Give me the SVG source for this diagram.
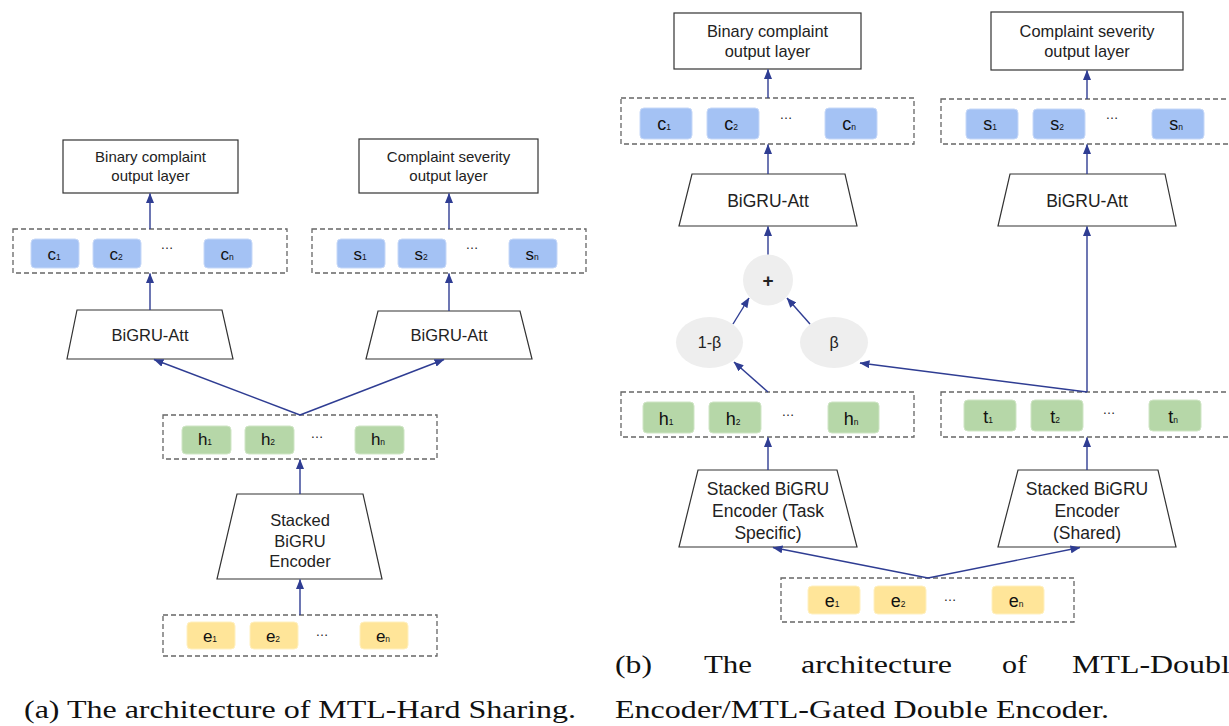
<svg xmlns="http://www.w3.org/2000/svg" width="1229" height="726" viewBox="0 0 1229 726">
<defs>
<marker id="arr" markerUnits="userSpaceOnUse" markerWidth="10" markerHeight="8" refX="9.5" refY="4" orient="auto">
<path d="M0,0 L10,4 L0,8 z" fill="#2f3d93"/>
</marker>
<style>
.box{fill:#fff;stroke:#333;stroke-width:1.2}
.row{fill:none;stroke:#666;stroke-width:1.3;stroke-dasharray:5 3}
.cb{fill:#a4c2f4;stroke:#c6d8f8;stroke-width:1}
.gb{fill:#b6d7a8;stroke:#cfe5c5;stroke-width:1}
.yb{fill:#ffe599;stroke:#fff0c0;stroke-width:1}
.el{fill:#eeeeee}
.t{font-family:"Liberation Sans",Arial,sans-serif;fill:#222;text-anchor:middle}
.l{font-family:"Liberation Sans",Arial,sans-serif;fill:#111;text-anchor:middle}
.s{font-size:8.5px}
.dots{font-family:"Liberation Sans",Arial,sans-serif;fill:#222;text-anchor:middle;font-size:13px}
.cap{font-family:"Liberation Serif","Times New Roman",serif;fill:#111;font-size:25px}
.con{stroke:#2f3d93;stroke-width:1.4;fill:none}
</style>
</defs>
<rect width="1229" height="726" fill="#fff"/>

<!-- ===== Diagram (a) ===== -->
<g id="a-binary-out">
<rect class="box" x="63" y="140" width="175" height="53"/>
<text class="t" x="150.5" y="162" font-size="15">Binary complaint</text>
<text class="t" x="150.5" y="181" font-size="15">output layer</text>
</g>
<g id="a-severity-out">
<rect class="box" x="359" y="139" width="179" height="54"/>
<text class="t" x="448.5" y="162" font-size="15">Complaint severity</text>
<text class="t" x="448.5" y="181" font-size="15">output layer</text>
</g>
<g id="a-c-row">
<rect class="row" x="13" y="229" width="274" height="44"/>
<rect class="cb" x="31" y="239" width="48" height="29" rx="4"/>
<rect class="cb" x="93" y="239" width="48" height="29" rx="4"/>
<rect class="cb" x="204" y="239" width="48" height="29" rx="4"/>
<text class="l" x="54" y="260" font-size="17">c<tspan class="s">1</tspan></text>
<text class="l" x="116" y="260" font-size="17">c<tspan class="s">2</tspan></text>
<text class="l" x="227" y="260" font-size="17">c<tspan class="s">n</tspan></text>
<text class="dots" x="167" y="249">…</text>
</g>
<g id="a-s-row">
<rect class="row" x="312" y="229" width="274" height="44"/>
<rect class="cb" x="337" y="239" width="48" height="29" rx="4"/>
<rect class="cb" x="398" y="239" width="48" height="29" rx="4"/>
<rect class="cb" x="509" y="239" width="48" height="29" rx="4"/>
<text class="l" x="360" y="260" font-size="17">s<tspan class="s">1</tspan></text>
<text class="l" x="421" y="260" font-size="17">s<tspan class="s">2</tspan></text>
<text class="l" x="532" y="260" font-size="17">s<tspan class="s">n</tspan></text>
<text class="dots" x="472" y="249">…</text>
</g>
<g id="a-bigru-att-1">
<polygon class="box" points="77,310 222,310 233,359 67,359"/>
<text class="t" x="150" y="341" font-size="16.5">BiGRU-Att</text>
</g>
<g id="a-bigru-att-2">
<polygon class="box" points="378,311 520,311 532,359 366,359"/>
<text class="t" x="449" y="341" font-size="16.5">BiGRU-Att</text>
</g>
<g id="a-h-row">
<rect class="row" x="163" y="415" width="274" height="44"/>
<rect class="gb" x="182" y="426" width="49" height="28" rx="4"/>
<rect class="gb" x="245" y="426" width="49" height="28" rx="4"/>
<rect class="gb" x="355" y="426" width="49" height="28" rx="4"/>
<text class="l" x="205" y="445" font-size="17">h<tspan class="s">1</tspan></text>
<text class="l" x="268" y="445" font-size="17">h<tspan class="s">2</tspan></text>
<text class="l" x="378" y="445" font-size="17">h<tspan class="s">n</tspan></text>
<text class="dots" x="317" y="438">…</text>
</g>
<g id="a-encoder">
<polygon class="box" points="237,494 363,494 382,579 217,579"/>
<text class="t" x="300" y="526" font-size="16.5">Stacked</text>
<text class="t" x="300" y="547" font-size="16.5">BiGRU</text>
<text class="t" x="300" y="567" font-size="16.5">Encoder</text>
</g>
<g id="a-e-row">
<rect class="row" x="163" y="615" width="274" height="41"/>
<rect class="yb" x="187" y="622" width="48" height="27" rx="4"/>
<rect class="yb" x="250" y="622" width="48" height="27" rx="4"/>
<rect class="yb" x="360" y="622" width="48" height="27" rx="4"/>
<text class="l" x="210" y="642" font-size="17">e<tspan class="s">1</tspan></text>
<text class="l" x="273" y="642" font-size="17">e<tspan class="s">2</tspan></text>
<text class="l" x="383" y="642" font-size="17">e<tspan class="s">n</tspan></text>
<text class="dots" x="322" y="636">…</text>
</g>
<g id="a-connectors">
<line class="con" x1="150" y1="229" x2="150" y2="193.5" marker-end="url(#arr)"/>
<line class="con" x1="150" y1="310" x2="150" y2="273.5" marker-end="url(#arr)"/>
<line class="con" x1="449" y1="229" x2="449" y2="193.5" marker-end="url(#arr)"/>
<line class="con" x1="449" y1="311" x2="449" y2="273.5" marker-end="url(#arr)"/>
<line class="con" x1="300" y1="415" x2="154" y2="359.5" marker-end="url(#arr)"/>
<line class="con" x1="300" y1="415" x2="444" y2="359.5" marker-end="url(#arr)"/>
<line class="con" x1="300" y1="494" x2="300" y2="459.5" marker-end="url(#arr)"/>
<line class="con" x1="300" y1="615" x2="300" y2="579.5" marker-end="url(#arr)"/>
</g>

<!-- ===== Diagram (b) ===== -->
<g id="b-binary-out">
<rect class="box" x="674" y="13" width="187" height="56"/>
<text class="t" x="767.5" y="37" font-size="16.4">Binary complaint</text>
<text class="t" x="767.5" y="57" font-size="16.4">output layer</text>
</g>
<g id="b-severity-out">
<rect class="box" x="991" y="12" width="192" height="58"/>
<text class="t" x="1087" y="37" font-size="16.4">Complaint severity</text>
<text class="t" x="1087" y="57" font-size="16.4">output layer</text>
</g>
<g id="b-c-row">
<rect class="row" x="621" y="98" width="293" height="46"/>
<rect class="cb" x="640" y="108" width="52" height="31" rx="4"/>
<rect class="cb" x="707" y="108" width="52" height="31" rx="4"/>
<rect class="cb" x="825" y="108" width="52" height="31" rx="4"/>
<text class="l" x="664" y="130" font-size="18">c<tspan class="s">1</tspan></text>
<text class="l" x="731" y="130" font-size="18">c<tspan class="s">2</tspan></text>
<text class="l" x="849" y="130" font-size="18">c<tspan class="s">n</tspan></text>
<text class="dots" x="786" y="119">…</text>
</g>
<g id="b-s-row">
<rect class="row" x="941" y="99" width="293" height="45"/>
<rect class="cb" x="966" y="109" width="52" height="30" rx="4"/>
<rect class="cb" x="1033" y="109" width="52" height="30" rx="4"/>
<rect class="cb" x="1152" y="109" width="52" height="30" rx="4"/>
<text class="l" x="990" y="130" font-size="18">s<tspan class="s">1</tspan></text>
<text class="l" x="1057" y="130" font-size="18">s<tspan class="s">2</tspan></text>
<text class="l" x="1176" y="130" font-size="18">s<tspan class="s">n</tspan></text>
<text class="dots" x="1112" y="119">…</text>
</g>
<g id="b-bigru-att-1">
<polygon class="box" points="692,174 845,174 857,226 679,226"/>
<text class="t" x="768" y="207" font-size="17.5">BiGRU-Att</text>
</g>
<g id="b-bigru-att-2">
<polygon class="box" points="1010,174 1165,174 1176,226 998,226"/>
<text class="t" x="1087" y="207" font-size="17.5">BiGRU-Att</text>
</g>
<g id="b-plus">
<ellipse class="el" cx="768" cy="280" rx="25" ry="25.5"/>
<text class="t" x="768" y="286.5" font-size="19" font-weight="bold">+</text>
</g>
<g id="b-one-minus-beta">
<ellipse class="el" cx="709.5" cy="342.5" rx="33.5" ry="25.5"/>
<text class="t" x="709.5" y="348" font-size="16">1-β</text>
</g>
<g id="b-beta">
<ellipse class="el" cx="834" cy="342.5" rx="34" ry="25.5"/>
<text class="t" x="834" y="348" font-size="16">β</text>
</g>
<g id="b-h-row">
<rect class="row" x="621" y="392" width="293" height="45"/>
<rect class="gb" x="643" y="402" width="51" height="31" rx="4"/>
<rect class="gb" x="709" y="402" width="52" height="31" rx="4"/>
<rect class="gb" x="828" y="402" width="51" height="31" rx="4"/>
<text class="l" x="666" y="425" font-size="18">h<tspan class="s">1</tspan></text>
<text class="l" x="733" y="425" font-size="18">h<tspan class="s">2</tspan></text>
<text class="l" x="851" y="425" font-size="18">h<tspan class="s">n</tspan></text>
<text class="dots" x="788" y="416">…</text>
</g>
<g id="b-t-row">
<rect class="row" x="941" y="392" width="293" height="45"/>
<rect class="gb" x="964" y="400" width="52" height="31" rx="4"/>
<rect class="gb" x="1031" y="400" width="52" height="31" rx="4"/>
<rect class="gb" x="1149" y="400" width="52" height="31" rx="4"/>
<text class="l" x="988" y="423" font-size="18">t<tspan class="s">1</tspan></text>
<text class="l" x="1055" y="423" font-size="18">t<tspan class="s">2</tspan></text>
<text class="l" x="1173" y="423" font-size="18">t<tspan class="s">n</tspan></text>
<text class="dots" x="1109" y="414">…</text>
</g>
<g id="b-encoder-task">
<polygon class="box" points="698,470 837,470 857,547 679,547"/>
<text class="t" x="768" y="495" font-size="17.5">Stacked BiGRU</text>
<text class="t" x="768" y="517" font-size="17.5">Encoder (Task</text>
<text class="t" x="768" y="539" font-size="17.5">Specific)</text>
</g>
<g id="b-encoder-shared">
<polygon class="box" points="1018,470 1158,470 1176,547 998,547"/>
<text class="t" x="1087" y="495" font-size="17.5">Stacked BiGRU</text>
<text class="t" x="1087" y="517" font-size="17.5">Encoder</text>
<text class="t" x="1087" y="539" font-size="17.5">(Shared)</text>
</g>
<g id="b-e-row">
<rect class="row" x="781" y="578" width="293" height="44"/>
<rect class="yb" x="808" y="586" width="52" height="28" rx="4"/>
<rect class="yb" x="874" y="586" width="52" height="28" rx="4"/>
<rect class="yb" x="992" y="586" width="52" height="28" rx="4"/>
<text class="l" x="832" y="607" font-size="18">e<tspan class="s">1</tspan></text>
<text class="l" x="898" y="607" font-size="18">e<tspan class="s">2</tspan></text>
<text class="l" x="1016" y="607" font-size="18">e<tspan class="s">n</tspan></text>
<text class="dots" x="950" y="601">…</text>
</g>
<g id="b-connectors">
<line class="con" x1="768" y1="98" x2="768" y2="69.5" marker-end="url(#arr)"/>
<line class="con" x1="768" y1="174" x2="768" y2="144.5" marker-end="url(#arr)"/>
<line class="con" x1="768" y1="254.5" x2="768" y2="226.5" marker-end="url(#arr)"/>
<line class="con" x1="733" y1="324" x2="749" y2="298" marker-end="url(#arr)"/>
<line class="con" x1="810" y1="324" x2="787" y2="298" marker-end="url(#arr)"/>
<line class="con" x1="768" y1="392" x2="734" y2="362" marker-end="url(#arr)"/>
<line class="con" x1="1087" y1="392" x2="860" y2="363" marker-end="url(#arr)"/>
<line class="con" x1="1087" y1="392" x2="1087" y2="226.5" marker-end="url(#arr)"/>
<line class="con" x1="1087" y1="174" x2="1087" y2="144.5" marker-end="url(#arr)"/>
<line class="con" x1="1087" y1="99" x2="1087" y2="70.5" marker-end="url(#arr)"/>
<line class="con" x1="768" y1="470" x2="768" y2="437.5" marker-end="url(#arr)"/>
<line class="con" x1="1087" y1="470" x2="1087" y2="437.5" marker-end="url(#arr)"/>
<line class="con" x1="928" y1="578" x2="773" y2="547.5" marker-end="url(#arr)"/>
<line class="con" x1="928" y1="578" x2="1080" y2="547.5" marker-end="url(#arr)"/>
</g>

<!-- ===== Captions ===== -->
<g id="captions">
<text class="cap" x="24" y="718" textLength="552" lengthAdjust="spacingAndGlyphs">(a) The architecture of MTL-Hard Sharing.</text>
<text class="cap" x="615" y="673" textLength="37" lengthAdjust="spacingAndGlyphs">(b)</text>
<text class="cap" x="704" y="673" textLength="48" lengthAdjust="spacingAndGlyphs">The</text>
<text class="cap" x="801" y="673" textLength="151" lengthAdjust="spacingAndGlyphs">architecture</text>
<text class="cap" x="1002" y="673" textLength="25" lengthAdjust="spacingAndGlyphs">of</text>
<text class="cap" x="1072" y="673" textLength="172" lengthAdjust="spacingAndGlyphs">MTL-Double</text>
<text class="cap" x="615" y="718" textLength="494" lengthAdjust="spacingAndGlyphs">Encoder/MTL-Gated Double Encoder.</text>
</g>
</svg>
